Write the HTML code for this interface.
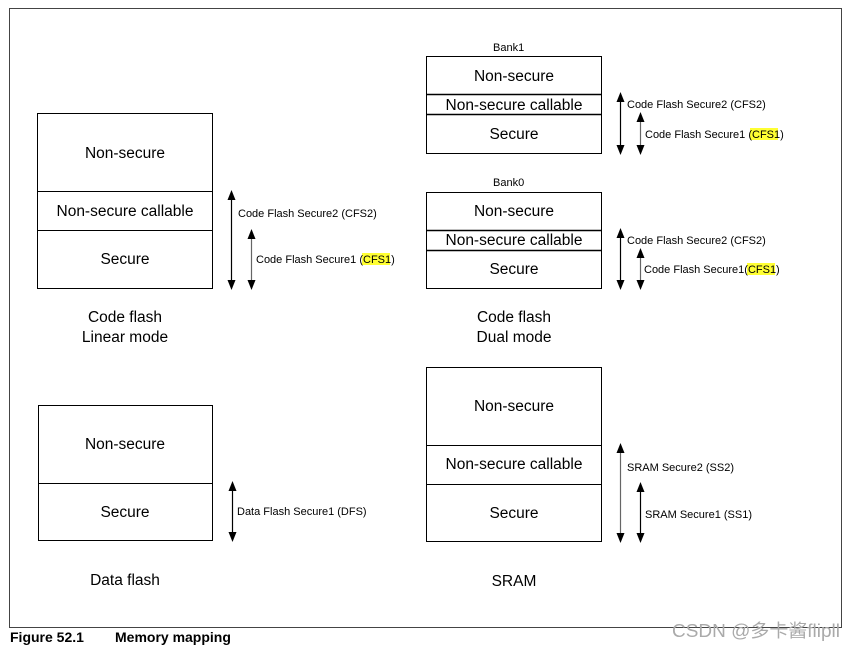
<!DOCTYPE html>
<html><head><meta charset="utf-8"><style>
html,body{margin:0;padding:0;background:#fff;}
svg{display:block;}
text{font-family:"Liberation Sans",Arial,sans-serif;fill:#000;}
.b{font-size:15.5px;text-anchor:middle;}
.s{font-size:11px;}
</style></head><body>
<svg width="854" height="649" viewBox="0 0 854 649" xmlns="http://www.w3.org/2000/svg">
<rect x="9.5" y="8.5" width="832" height="619" fill="none" stroke="#444" stroke-width="1"/>
<g fill="none" stroke="#000" stroke-width="1">
<rect x="37.5" y="113.5" width="175" height="175"/>
<line x1="37" y1="191.5" x2="212" y2="191.5"/><line x1="37" y1="230.5" x2="212" y2="230.5"/>
<rect x="426.5" y="56.5" width="175" height="97"/>
<line x1="426" y1="94.5" x2="601" y2="94.5" stroke-width="1.5"/><line x1="426" y1="114.5" x2="601" y2="114.5" stroke-width="1.5"/>
<rect x="426.5" y="192.5" width="175" height="96"/>
<line x1="426" y1="230.5" x2="601" y2="230.5" stroke-width="1.5"/><line x1="426" y1="250.5" x2="601" y2="250.5" stroke-width="1.5"/>
<rect x="38.5" y="405.5" width="174" height="135"/>
<line x1="38" y1="483.5" x2="212" y2="483.5"/>
<rect x="426.5" y="367.5" width="175" height="174"/>
<line x1="426" y1="445.5" x2="601" y2="445.5"/><line x1="426" y1="484.5" x2="601" y2="484.5"/>
</g>
<!-- arrows: line + polygons -->
<g stroke-width="1.2">
<line x1="231.5" y1="196" x2="231.5" y2="284" stroke="#000"/>
<polygon points="231.5,190 227.5,200 235.5,200" fill="#000"/><polygon points="231.5,290 227.5,280 235.5,280" fill="#000"/>
<line x1="251.5" y1="235" x2="251.5" y2="284" stroke="#666"/>
<polygon points="251.5,229 247.5,239 255.5,239" fill="#000"/><polygon points="251.5,290 247.5,280 255.5,280" fill="#000"/>

<line x1="620.5" y1="98" x2="620.5" y2="149" stroke="#000"/>
<polygon points="620.5,92 616.5,102 624.5,102" fill="#000"/><polygon points="620.5,155 616.5,145 624.5,145" fill="#000"/>
<line x1="640.5" y1="118" x2="640.5" y2="149" stroke="#666"/>
<polygon points="640.5,112 636.5,122 644.5,122" fill="#000"/><polygon points="640.5,155 636.5,145 644.5,145" fill="#000"/>

<line x1="620.5" y1="234" x2="620.5" y2="284" stroke="#000"/>
<polygon points="620.5,228 616.5,238 624.5,238" fill="#000"/><polygon points="620.5,290 616.5,280 624.5,280" fill="#000"/>
<line x1="640.5" y1="254" x2="640.5" y2="284" stroke="#666"/>
<polygon points="640.5,248 636.5,258 644.5,258" fill="#000"/><polygon points="640.5,290 636.5,280 644.5,280" fill="#000"/>

<line x1="232.5" y1="487" x2="232.5" y2="536" stroke="#000"/>
<polygon points="232.5,481 228.5,491 236.5,491" fill="#000"/><polygon points="232.5,542 228.5,532 236.5,532" fill="#000"/>

<line x1="620.5" y1="449" x2="620.5" y2="537" stroke="#666"/>
<polygon points="620.5,443 616.5,453 624.5,453" fill="#000"/><polygon points="620.5,543 616.5,533 624.5,533" fill="#000"/>
<line x1="640.5" y1="488" x2="640.5" y2="537" stroke="#000"/>
<polygon points="640.5,482 636.5,492 644.5,492" fill="#000"/><polygon points="640.5,543 636.5,533 644.5,533" fill="#000"/>
</g>
<rect x="362" y="253" width="28" height="12" fill="#ffff33"/>
<rect x="750" y="128" width="28" height="12" fill="#ffff33"/>
<rect x="747" y="263" width="28" height="12" fill="#ffff33"/>
<text class="b" x="125" y="158">Non-secure</text>
<text class="b" x="125" y="216">Non-secure callable</text>
<text class="b" x="125" y="264">Secure</text>
<text class="b" x="125" y="322">Code flash</text>
<text class="b" x="125" y="342">Linear mode</text>
<text class="s" x="238" y="217">Code Flash Secure2 (CFS2)</text>
<text class="s" x="256" y="263">Code Flash Secure1 (CFS1)</text>
<text class="s" x="493" y="51">Bank1</text>
<text class="b" x="514" y="81">Non-secure</text>
<text class="b" x="514" y="110">Non-secure callable</text>
<text class="b" x="514" y="139">Secure</text>
<text class="s" x="627" y="108">Code Flash Secure2 (CFS2)</text>
<text class="s" x="645" y="138">Code Flash Secure1 (CFS1)</text>
<text class="s" x="493" y="186">Bank0</text>
<text class="b" x="514" y="216">Non-secure</text>
<text class="b" x="514" y="245">Non-secure callable</text>
<text class="b" x="514" y="274">Secure</text>
<text class="s" x="627" y="244">Code Flash Secure2 (CFS2)</text>
<text class="s" x="644" y="273">Code Flash Secure1(CFS1)</text>
<text class="b" x="514" y="322">Code flash</text>
<text class="b" x="514" y="342">Dual mode</text>
<text class="b" x="125" y="449">Non-secure</text>
<text class="b" x="125" y="517">Secure</text>
<text class="s" x="237" y="515">Data Flash Secure1 (DFS)</text>
<text class="b" x="125" y="585">Data flash</text>
<text class="b" x="514" y="411">Non-secure</text>
<text class="b" x="514" y="469">Non-secure callable</text>
<text class="b" x="514" y="518">Secure</text>
<text class="s" x="627" y="471">SRAM Secure2 (SS2)</text>
<text class="s" x="645" y="518">SRAM Secure1 (SS1)</text>
<text class="b" x="514" y="586">SRAM</text>
<text x="10" y="642" style="font-size:14px;font-weight:bold">Figure 52.1</text>
<text x="115" y="642" style="font-size:14px;font-weight:bold">Memory mapping</text>
<text x="672" y="637" textLength="168" lengthAdjust="spacingAndGlyphs" style="font-size:18px;fill:#aaa;font-family:'Liberation Sans','Noto Sans CJK SC',sans-serif">CSDN @多卡酱flipll</text>
</svg>
</body></html>
